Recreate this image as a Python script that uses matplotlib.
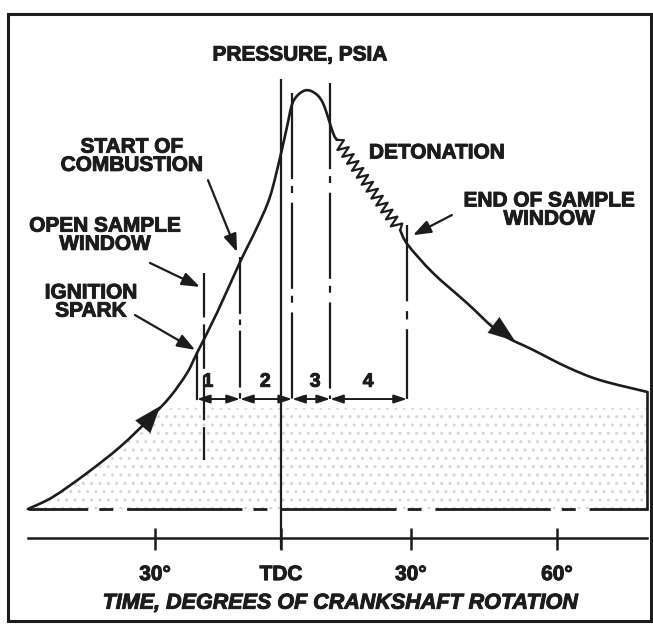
import numpy as np
import matplotlib
matplotlib.use("Agg")
import matplotlib.pyplot as plt
from matplotlib.patches import Rectangle, PathPatch
from matplotlib.path import Path
import matplotlib.patheffects as pe

# ---------------- data (crank angle in degrees, pressure in relative units) ----------------
rise_deg = [-59.3, -53.4, -45.4, -37.7, -31.1, -26.0, -22.0, -19.7, -15.0, -9.6,
            -5.6, -2.6, -0.2, 1.4, 2.8, 5.2, 7.5, 9.8, 12.2, 13.1]
rise_p = [0.0, 2.9, 8.6, 14.8, 21.2, 26.7, 32.4, 37.1, 46.7, 58.8,
          67.1, 74.3, 83.8, 91.0, 96.9, 99.5, 99.3, 96.7, 89.5, 87.9]
fall_deg = [27.9, 29.7, 35.6, 43.6, 51.3, 59.0, 67.0, 74.7, 85.7]
fall_p = [66.4, 62.9, 56.2, 49.0, 41.9, 37.9, 33.8, 30.7, 27.9]
detonation_deg = [13.1, 27.9]
detonation_p = [87.9, 66.4]

baseline_deg = [-59.3, 85.7]
baseline_p = 0.0

# event lines: ignition, open window, start comb., TDC, two markers, end window
event_deg = [-19.7, -18.0, -9.6, 0.0, 2.6, 11.5, 29.5]
event_top = [37.1, 56.2, 60.0, 102.1, 99.0, 101.4, 67.6]
event_bottom = [26.2, 11.7, 26.2, -9.3, 26.2, 26.2, 26.2]

window_bounds = [-19.7, -9.6, 2.6, 11.5, 29.5]
window_level = 26.2
window_labels = ["1", "2", "3", "4"]
window_label_deg = [-17.1, -3.7, 8.0, 20.4]
window_label_p = 30.2

tick_pos = [-29.5, 0.0, 30.4, 64.6]
tick_labels = ["30°", "TDC", "30°", "60°"]
axis_level = -6.9

flow_arrow_base = [(-32.6, 19.3), (48.9, 44.5)]
flow_arrow_tip = [(-28.3, 24.5), (54.8, 40.0)]

callout_text = ["START OF\nCOMBUSTION", "OPEN SAMPLE\nWINDOW", "IGNITION\nSPARK",
                "DETONATION", "END OF SAMPLE\nWINDOW"]
callout_xy = [(-34.9, 84.0), (-41.2, 65.2), (-44.5, 49.3), (36.5, 84.8), (62.8, 71.2)]
callout_from = [(-17.1, 78.3), (-30.7, 58.6), (-34.2, 46.2), None, (40.0, 70.0)]
callout_to = [(-10.3, 61.2), (-19.0, 52.9), (-20.1, 37.9), None, (30.9, 65.2)]

# ---------------- drawing ----------------
plt.rcParams["lines.scale_dashes"] = False
plt.rcParams["hatch.linewidth"] = 1.0
INK = "#1c1c1c"
FONT = ["Liberation Sans", "DejaVu Sans"]
BOLDER = [pe.withStroke(linewidth=0.7, foreground=INK)]

fig = plt.figure(figsize=(6.53, 6.25), dpi=100)
ax = fig.add_axes([0, 0, 1, 1])
ax.set_xlim(-65.8, 87.1)
ax.set_ylim(-27.6, 121.2)
ax.axis("off")


def smooth_path(xs, ys):
    """Catmull-Rom spline through the given points, as a Bezier path."""
    P = np.column_stack([xs, ys]).astype(float)
    n = len(P)
    verts = [P[0]]
    codes = [Path.MOVETO]
    for i in range(n - 1):
        p0 = P[i - 1] if i > 0 else P[i]
        p1, p2 = P[i], P[i + 1]
        p3 = P[i + 2] if i + 2 < n else P[i + 1]
        verts += [p1 + (p2 - p0) / 6.0, p2 - (p3 - p1) / 6.0, p2]
        codes += [Path.CURVE4] * 3
    return Path(verts, codes)


# stipple under the curve
all_deg = np.array(rise_deg + fall_deg)
all_p = np.array(rise_p + fall_p)
ax.fill_between(all_deg, 0, np.minimum(all_p, 24.0), facecolor="none",
                edgecolor="#d6d6d6", hatch="..", linewidth=0, zorder=0)

# pressure curve
lw_curve = 1.9
ax.add_patch(PathPatch(smooth_path(rise_deg, rise_p), fill=False, edgecolor=INK,
                       lw=lw_curve, capstyle="round", zorder=3))
ax.add_patch(PathPatch(smooth_path(fall_deg, fall_p), fill=False, edgecolor=INK,
                       lw=lw_curve, capstyle="round", zorder=3))
ax.plot([fall_deg[-1], fall_deg[-1]], [fall_p[-1], baseline_p], color=INK, lw=lw_curve,
        zorder=3)

# detonation zigzag
def zigzag(p0, p1, n, amp_px):
    d0 = ax.transData.transform(p0)
    d1 = ax.transData.transform(p1)
    t = np.linspace(0, 1, 2 * n + 1)
    pts = d0 + np.outer(t, d1 - d0)
    v = d1 - d0
    perp = np.array([-v[1], v[0]]) / np.hypot(*v)
    sign = np.array([0] + [(-1) ** k for k in range(2 * n - 1)] + [0])
    pts = pts + np.outer(sign * amp_px, perp)
    return ax.transData.inverted().transform(pts)

zz = zigzag((detonation_deg[0], detonation_p[0]), (detonation_deg[1], detonation_p[1]), 13, 5.5)
ax.plot(zz[:, 0], zz[:, 1], color=INK, lw=1.6, zorder=3)

# baseline (dash / short dash)
ax.plot(baseline_deg, [baseline_p, baseline_p], color=INK, lw=2.0,
        linestyle=(40, (83, 8, 10, 10)), zorder=3)

# event lines
styles = ["-", (0, (32, 5)), (0, (41, 4, 4, 4)), "-", (0, (62, 5, 5, 7)),
          (0, (62, 5, 5, 7)), (0, (55, 7, 6, 7))]
for x, top, bot, ls in zip(event_deg, event_top, event_bottom, styles):
    ax.plot([x, x], [top, bot], color=INK, lw=1.6, linestyle=ls, zorder=2)

# window brackets with double arrows
for a, b in zip(window_bounds[:-1], window_bounds[1:]):
    ax.annotate("", xy=(b, window_level), xytext=(a, window_level),
                arrowprops=dict(arrowstyle="<|-|>,head_length=0.55,head_width=0.18",
                                color=INK, lw=1.4, shrinkA=0, shrinkB=0,
                                mutation_scale=14), zorder=3)
for lab, x in zip(window_labels, window_label_deg):
    ax.text(x, window_label_p, lab, ha="center", va="center", fontsize=14,
            fontweight="bold", family=FONT, color=INK, path_effects=BOLDER)

# flow-direction arrowheads on the curve
for base, tip in zip(flow_arrow_base, flow_arrow_tip):
    ax.annotate("", xy=tip, xytext=base,
                arrowprops=dict(arrowstyle="-|>,head_length=0.6,head_width=0.22",
                                color=INK, lw=0.1, shrinkA=0, shrinkB=0,
                                mutation_scale=32), zorder=4)

# x axis
ax.plot([baseline_deg[0], baseline_deg[1]], [axis_level, axis_level], color=INK, lw=1.8)
ax.vlines(tick_pos, -4.5, -9.8, color=INK, lw=1.8)
for x, lab in zip(tick_pos, tick_labels):
    ax.text(x, -15.6, lab, ha="center", va="center", fontsize=15, fontweight="bold",
            family=FONT, color=INK, path_effects=BOLDER)
ax.text(13.8, -22.4, "TIME, DEGREES OF CRANKSHAFT ROTATION", ha="center", va="center",
        fontsize=15.5, fontweight="bold", fontstyle="italic", family=FONT, color=INK,
        path_effects=BOLDER)

# title
ax.text(4.45, 108.1, "PRESSURE, PSIA", ha="center", va="center", fontsize=15,
        fontweight="bold", family=FONT, color=INK, path_effects=BOLDER)

# callouts
for txt, xy, p0, p1 in zip(callout_text, callout_xy, callout_from, callout_to):
    ax.text(xy[0], xy[1], txt, ha="center", va="center", multialignment="center",
            fontsize=15, fontweight="bold", family=FONT, color=INK, linespacing=0.95,
            path_effects=BOLDER)
    if p0 is not None:
        ax.annotate("", xy=p1, xytext=p0,
                    arrowprops=dict(arrowstyle="-|>,head_length=0.6,head_width=0.22",
                                    color=INK, lw=1.6, shrinkA=0, shrinkB=0,
                                    mutation_scale=18))

# frame
fig.add_artist(Rectangle((8 / 653, 1 - 621 / 625), (651 - 8) / 653, (621 - 14) / 625,
                         transform=fig.transFigure, fill=False, edgecolor=INK, lw=2.2))

fig.savefig("out.png", dpi=100, facecolor="white")
